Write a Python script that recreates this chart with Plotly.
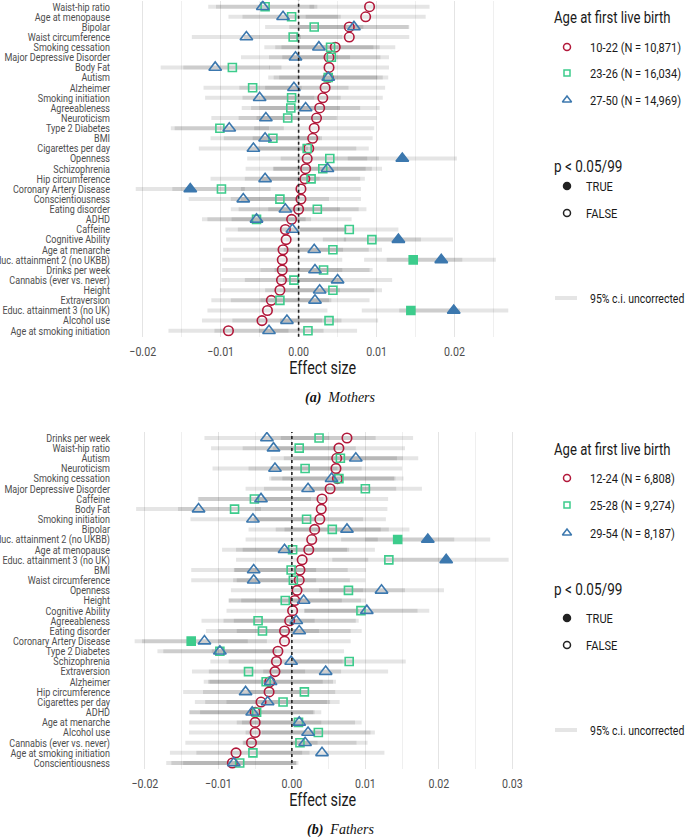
import json
import plotly.graph_objects as go

# ---------------- DATA ----------------
m_traits = ["Waist-hip ratio", "Age at menopause", "Bipolar", "Waist circumference", "Smoking cessation",
            "Major Depressive Disorder", "Body Fat", "Autism", "Alzheimer", "Smoking initiation",
            "Agreeableness", "Neuroticism", "Type 2 Diabetes", "BMI", "Cigarettes per day", "Openness",
            "Schizophrenia", "Hip circumference", "Coronary Artery Disease", "Conscientiousness",
            "Eating disorder", "ADHD", "Caffeine", "Cognitive Ability", "Age at menarche",
            "Educ. attainment 2 (no UKBB)", "Drinks per week", "Cannabis (ever vs. never)", "Height",
            "Extraversion", "Educ. attainment 3 (no UK)", "Alcohol use", "Age at smoking initiation"]
m_young = [0.0091, 0.0086, 0.0065, 0.0065, 0.0047, 0.0039, 0.0039, 0.0038, 0.0034, 0.0031,
           0.0027, 0.0023, 0.0020, 0.0018, 0.0013, 0.0011, 0.0009, 0.0008, 0.0003, 0.0003,
           0.0000, -0.0009, -0.0017, -0.0016, -0.0020, -0.0021, -0.0021, -0.0022, -0.0024,
           -0.0035, -0.0040, -0.0047, -0.0090]
m_mid = [-0.0043, -0.0009, 0.0020, -0.0007, 0.0041, 0.0042, -0.0085, 0.0038, -0.0059, -0.0009,
         -0.0010, -0.0014, -0.0101, -0.0033, 0.0011, 0.0040, 0.0031, 0.0016, -0.0099, -0.0024,
         0.0024, -0.0054, 0.0065, 0.0094, 0.0044, 0.0147, 0.0032, -0.0006, 0.0044,
         -0.0024, 0.0144, 0.0039, 0.0012]
m_old = [-0.0046, -0.0020, 0.0071, -0.0067, 0.0026, -0.0004, -0.0107, 0.0038, -0.0006, -0.0050,
         0.0009, -0.0042, -0.0089, -0.0043, -0.0058, 0.0133, 0.0037, -0.0043, -0.0139, -0.0071,
         -0.0017, -0.0054, -0.0008, 0.0128, 0.0020, 0.0183, 0.0021, 0.0050, 0.0027,
         0.0021, 0.0199, -0.0015, -0.0038]
m_sig_young = []
m_sig_mid = ["Educ. attainment 2 (no UKBB)", "Educ. attainment 3 (no UK)"]
m_sig_old = ["Openness", "Coronary Artery Disease", "Cognitive Ability",
             "Educ. attainment 2 (no UKBB)", "Educ. attainment 3 (no UK)"]
m_ci_half = [0.0077, 0.0063, 0.0070]
m_groups = ["10-22 (N = 10,871)", "23-26 (N = 16,034)", "27-50 (N = 14,969)"]

f_traits = ["Drinks per week", "Waist-hip ratio", "Autism", "Neuroticism", "Smoking cessation",
            "Major Depressive Disorder", "Caffeine", "Body Fat", "Smoking initiation", "Bipolar",
            "Educ. attainment 2 (no UKBB)", "Age at menopause", "Educ. attainment 3 (no UK)", "BMI",
            "Waist circumference", "Openness", "Height", "Cognitive Ability", "Agreeableness",
            "Eating disorder", "Coronary Artery Disease", "Type 2 Diabetes", "Schizophrenia",
            "Extraversion", "Alzheimer", "Hip circumference", "Cigarettes per day", "ADHD",
            "Age at menarche", "Alcohol use", "Cannabis (ever vs. never)", "Age at smoking initiation",
            "Conscientiousness"]
f_young = [0.0075, 0.0064, 0.0061, 0.0060, 0.0062, 0.0052, 0.0041, 0.0040, 0.0038, 0.0031,
           0.0027, 0.0023, 0.0014, 0.0011, 0.0010, 0.0007, 0.0004, 0.0001, -0.0003,
           -0.0010, -0.0010, -0.0019, -0.0021, -0.0023, -0.0030, -0.0031, -0.0042, -0.0050,
           -0.0050, -0.0050, -0.0055, -0.0076, -0.0081]
f_mid = [0.0037, 0.0010, 0.0066, 0.0018, 0.0064, 0.0100, -0.0051, -0.0078, 0.0020, 0.0055,
         0.0144, 0.0001, 0.0132, -0.0001, 0.0002, 0.0077, -0.0009, 0.0094, -0.0046,
         -0.0040, -0.0137, -0.0098, 0.0078, -0.0059, -0.0035, 0.0017, -0.0012, -0.0048,
         0.0009, 0.0036, 0.0011, -0.0053, -0.0071]
f_old = [-0.0034, -0.0025, 0.0087, -0.0023, 0.0054, 0.0022, -0.0042, -0.0127, -0.0053, 0.0075,
         0.0185, -0.0010, 0.0210, -0.0052, -0.0052, 0.0122, 0.0016, 0.0102, 0.0006,
         0.0010, -0.0119, -0.0098, -0.0001, 0.0046, -0.0029, -0.0063, -0.0033, -0.0054,
         0.0010, 0.0022, 0.0018, 0.0041, -0.0079]
f_sig_young = []
f_sig_mid = ["Educ. attainment 2 (no UKBB)", "Coronary Artery Disease"]
f_sig_old = ["Educ. attainment 2 (no UKBB)", "Educ. attainment 3 (no UK)"]
f_ci_half = [0.0090, 0.0077, 0.0085]
f_groups = ["12-24 (N = 6,808)", "25-28 (N = 9,274)", "29-54 (N = 8,187)"]

x_ticks_top = [-0.02, -0.01, 0.00, 0.01, 0.02]
x_ticks_bot = [-0.02, -0.01, 0.00, 0.01, 0.02, 0.03]

# ---------------- STYLE ----------------
W, H = 685, 837
COLORS = ["#B2183A", "#3DCC8C", "#3C78AE"]
OPEN = ["circle-open", "square-open", "triangle-up-open"]
FILL = ["circle", "square", "triangle-up"]
SIZES = [9.5, 8, 11]
LABEL_FONT = "Roboto, sans-serif"
SERIF = "Liberation Serif, DejaVu Serif, serif"
TEXT_COL = "#4d4d4d"

fig = go.Figure()

def px2paper_x(px):
    return px / W

def px2paper_y(py):
    return 1 - py / H

panels = [
    dict(traits=m_traits, vals=[m_young, m_mid, m_old], sig=[m_sig_young, m_sig_mid, m_sig_old],
         half=m_ci_half, xa="x", ya="y"),
    dict(traits=f_traits, vals=[f_young, f_mid, f_old], sig=[f_sig_young, f_sig_mid, f_sig_old],
         half=f_ci_half, xa="x2", ya="y2"),
]

for p in panels:
    rows = list(range(1, len(p["traits"]) + 1))
    for g in range(3):
        xs, ys = [], []
        for r, v in zip(rows, p["vals"][g]):
            xs += [v - p["half"][g], v + p["half"][g], None]
            ys += [r, r, None]
        fig.add_trace(go.Scatter(x=xs, y=ys, mode="lines", xaxis=p["xa"], yaxis=p["ya"],
                                 line=dict(color="rgba(0,0,0,0.10)", width=4),
                                 hoverinfo="skip", showlegend=False))
    for g in range(3):
        syms = [FILL[g] if t in p["sig"][g] else OPEN[g] for t in p["traits"]]
        fig.add_trace(go.Scatter(x=p["vals"][g], y=rows, mode="markers", xaxis=p["xa"], yaxis=p["ya"],
                                 marker=dict(symbol=syms, size=SIZES[g], color=COLORS[g],
                                             line=dict(color=COLORS[g], width=1.6)),
                                 showlegend=False))

PL, PR = 117, 527
top_y0, top_y1 = 0.6, 336.8
bot_y0, bot_y1 = 431.9, 769.1

common_x = dict(showline=False, zeroline=False, ticks="", showgrid=True, gridcolor="#e4e4e4",
                gridwidth=1, tickfont=dict(family=LABEL_FONT, size=13, color=TEXT_COL),
                minor=dict(dtick=0.005, showgrid=True, gridcolor="#efefef", gridwidth=1),
                tickformat=".2f", automargin=False, ticklabelstandoff=5)
common_y = dict(showline=False, zeroline=False, ticks="", showgrid=False,
                tickfont=dict(family=LABEL_FONT, size=11, color=TEXT_COL),
                tickvals=list(range(1, 34)), ticklabelstandoff=6, automargin=False)

fig.update_layout(
    template="none",
    width=W, height=H, margin=dict(l=0, r=0, t=0, b=0, autoexpand=False),
    plot_bgcolor="rgba(0,0,0,0)", paper_bgcolor="white", showlegend=False,
    xaxis=dict(common_x, domain=[px2paper_x(PL), px2paper_x(PR)], range=[-0.0233, 0.0293],
               tickvals=x_ticks_top, anchor="y"),
    yaxis=dict(common_y, domain=[px2paper_y(top_y1), px2paper_y(top_y0)], range=[33.6, 0.4],
               ticktext=m_traits, anchor="x"),
    xaxis2=dict(common_x, domain=[px2paper_x(PL), px2paper_x(PR)], range=[-0.0238, 0.032],
                tickvals=x_ticks_bot, anchor="y2"),
    yaxis2=dict(common_y, domain=[px2paper_y(bot_y1), px2paper_y(bot_y0)], range=[33.6, 0.4],
                ticktext=f_traits, anchor="x2"),
    xaxis3=dict(domain=[0, 1], range=[0, W], visible=False, anchor="y3", fixedrange=True,
                automargin=False),
    yaxis3=dict(domain=[0, 1], range=[H, 0], visible=False, anchor="x3", fixedrange=True,
                automargin=False),
)

for xa, ya in [("x", "y"), ("x2", "y2")]:
    fig.add_shape(type="line", xref=xa, yref=ya + " domain", x0=0, x1=0, y0=0, y1=1,
                  line=dict(color="#222222", width=1.6, dash="dot"), layer="above")

annotations = []
left_idx = []

def add_text(x, y, text, size, family=LABEL_FONT, color="#1a1a1a", left=False):
    if left:
        left_idx.append(len(annotations))
    annotations.append(dict(x=x, y=y, xref="x3", yref="y3", text=text, showarrow=False,
                            xanchor="left" if left else "center",
                            font=dict(family=family, size=size, color=color)))

for ty, cy, cap in [(368, 398, "<b><i>(a)</i></b>  <i>Mothers</i>"),
                    (800, 830, "<b><i>(b)</i></b>  <i>Fathers</i>")]:
    add_text((PL + PR) / 2, ty, "Effect size", 17.5)
    add_text(340, cy, cap, 14, family=SERIF, color="#111111")

legend_specs = [
    dict(groups=m_groups, title_y=17, item_y=[47, 73, 100], p_y=166, tf_y=[186, 213], ci_y=298),
    dict(groups=f_groups, title_y=449, item_y=[478, 505, 533], p_y=589, tf_y=[618, 645], ci_y=730),
]
LX_TITLE, LX_KEY, LX_TEXT = 552, 567, 588
for spec in legend_specs:
    add_text(LX_TITLE, spec["title_y"], "Age at first live birth", 16, left=True)
    for g in range(3):
        fig.add_trace(go.Scatter(x=[LX_KEY], y=[spec["item_y"][g]], xaxis="x3", yaxis="y3",
                                 mode="markers", hoverinfo="skip", showlegend=False,
                                 marker=dict(symbol=OPEN[g], size=[7, 6, 8][g], color=COLORS[g],
                                             line=dict(color=COLORS[g], width=1.5))))
        add_text(LX_TEXT, spec["item_y"][g], spec["groups"][g], 13.5, left=True)
    add_text(LX_TITLE, spec["p_y"], "p &lt; 0.05/99", 16.5, left=True)
    for i, (lab, sym) in enumerate([("TRUE", "circle"), ("FALSE", "circle-open")]):
        fig.add_trace(go.Scatter(x=[LX_KEY], y=[spec["tf_y"][i]], xaxis="x3", yaxis="y3",
                                 mode="markers", hoverinfo="skip", showlegend=False,
                                 marker=dict(symbol=sym, size=7, color="#222222",
                                             line=dict(color="#222222", width=1.5))))
        add_text(LX_TEXT - 4, spec["tf_y"][i], lab, 13.5, left=True)
    fig.add_trace(go.Scatter(x=[555, 577], y=[spec["ci_y"], spec["ci_y"]], xaxis="x3", yaxis="y3",
                             mode="lines", hoverinfo="skip", showlegend=False,
                             line=dict(color="rgba(0,0,0,0.10)", width=4)))
    add_text(LX_TEXT, spec["ci_y"], "95% c.i. uncorrected", 12.8, left=True)

fig.update_layout(annotations=annotations)

# remove default page margin and render the sans texts condensed, like the reference typeface
post = """
document.body.style.margin = '0';
var gd = document.getElementById('{plot_id}');
var leftIdx = LEFT_IDX;
gd.querySelectorAll('g.annotation').forEach(function (g) {
  var idx = parseInt(g.getAttribute('data-index'));
  if (leftIdx.indexOf(idx) === -1) { return; }
  var t = g.querySelector('text.annotation-text');
  if (!t) { return; }
  var bb = t.getBBox();
  t.setAttribute('text-anchor', 'start');
  t.setAttribute('x', bb.x);
});
gd.querySelectorAll('svg text').forEach(function (t) {
  var ff = (t.style.fontFamily || '');
  if (ff.indexOf('Roboto') === -1) { return; }
  var w = t.getComputedTextLength();
  if (w > 0) {
    t.setAttribute('textLength', (w * 0.82).toFixed(2));
    t.setAttribute('lengthAdjust', 'spacingAndGlyphs');
  }
});
""".replace("LEFT_IDX", json.dumps(left_idx))
fig.write_html("out.html", config={"displayModeBar": False}, post_script=post)
